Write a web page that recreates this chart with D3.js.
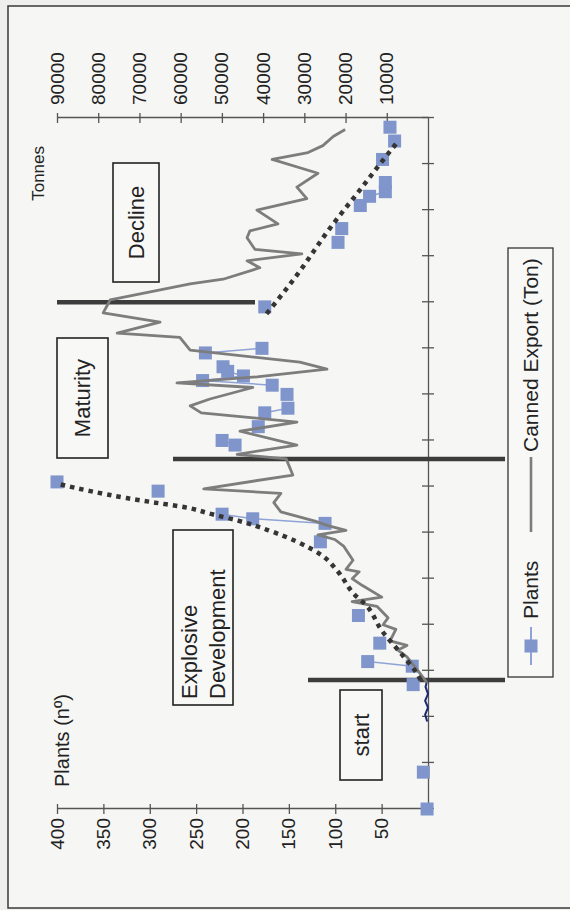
<!DOCTYPE html>
<html>
<head>
<meta charset="utf-8">
<script src="https://cdn.jsdelivr.net/npm/d3@7"></script>
<style>
body { margin: 0; background: #efefed; }
svg { display: block; font-family: "Liberation Sans", Arial, sans-serif; }
</style>
</head>
<body>
<div id="chart"></div>
<script>
// time axis: one tick every 10 years, no labels
var timeTicks = [1850, 1860, 1870, 1880, 1890, 1900, 1910, 1920, 1930, 1940, 1950, 1960, 1970, 1980, 1990, 2000];
var plantTicks = [50, 100, 150, 200, 250, 300, 350, 400];
var tonneTicks = [10000, 20000, 30000, 40000, 50000, 60000, 70000, 80000, 90000];

// plants (number of canning plants)
var plantYears = [1850, 1858, 1877, 1881, 1882, 1886, 1892, 1908, 1912, 1913, 1914, 1919, 1921,
    1929, 1930, 1933, 1936, 1937, 1940, 1942, 1943, 1944, 1945, 1946, 1949, 1950,
    1959, 1973, 1976, 1981, 1983, 1984, 1986, 1991, 1995, 1998];
var plantCounts = [1, 5, 16, 17, 65, 52, 75, 116, 111, 189, 222, 291, 400,
    208, 222, 183, 176, 151, 152, 168, 243, 199, 216, 221, 240, 179,
    176, 97, 93, 73, 63, 46, 46, 49, 36, 41];

// canned export (tonnes)
var earlyYears = [1869, 1870.5, 1872, 1873.5, 1875, 1876.5, 1877.5];
var earlyTonnes = [200, 700, 0, 700, 0, 600, 300];
var exportYears = [1877.5, 1880, 1883, 1884.5, 1885.5, 1886.5, 1889, 1890, 1891.5, 1894, 1895, 1896,
    1898.5, 1900, 1901.5, 1902, 1904, 1907, 1908.5, 1909.5, 1910.5, 1911.5, 1912.5, 1914.5,
    1916.5, 1918.5, 1919.5, 1922.5, 1926, 1927, 1929, 1932, 1934, 1936, 1937.5, 1939, 1941.5,
    1942.5, 1943.8, 1945.5, 1947, 1949.6, 1952.4, 1953.3, 1955.7, 1957.7, 1960.5, 1964, 1965,
    1967.5, 1969, 1970.5, 1971.5, 1974, 1975.5, 1977, 1980, 1982.5, 1985, 1988, 1991, 1992.5,
    1994, 1996, 1997.5];
var exportTonnes = [300, 2400, 5100, 7300, 5100, 9200, 7800, 10900, 9700, 12400, 18400, 11200,
    15900, 18400, 16700, 19900, 18200, 20400, 22600, 26700, 19900, 24300, 27400, 35700,
    37400, 35700, 54400, 32800, 34400, 46300, 31800, 45600, 31800, 55000, 57700, 52900, 42500,
    60900, 41500, 24500, 31100, 57700, 60200, 75400, 65000, 78800, 77100, 57700, 49700,
    40800, 43900, 30600, 42000, 43900, 43200, 36400, 41500, 29400, 31800, 26700, 37800, 29100,
    25500, 23000, 20100];

// trend lines
var growthYears = [1878, 1880, 1883.5, 1888.5, 1894.5, 1896.5, 1901.5, 1905, 1908, 1910.5, 1912.5, 1914, 1915.5, 1916.5, 1917.5, 1919, 1920.5];
var growthPlants = [8, 14, 28, 49, 68, 79, 97, 114, 141, 172, 203, 233, 262, 294, 325, 364, 397];
var declineYears = [1957.5, 1966, 1976, 1985, 1991.5, 1995];
var declinePlants = [174, 141, 106, 71, 46, 32];

var phaseYears = [1878, 1926, 1960];

var W = 691, H = 371;

var svg = d3.select("#chart").append("svg")
    .attr("width", 570)
    .attr("height", 910);

svg.append("rect")
    .attr("x", 8).attr("y", 6)
    .attr("width", 600).attr("height", 902)
    .attr("fill", "#f6f6f4")
    .attr("stroke", "#3a3a3a")
    .attr("stroke-width", 1.5);

// the whole chart is turned a quarter turn, as on the scanned page
var g = svg.append("g").attr("transform", "translate(57,809) rotate(-90)");

var x = d3.scaleLinear().domain([1850, 2000]).range([0, W]);
var yP = d3.scaleLinear().domain([0, 400]).range([H, 0]);
var yT = d3.scaleLinear().domain([0, 90000]).range([H, 0]);

// axes
var axP = g.append("g")
    .call(d3.axisLeft(yP).tickValues(plantTicks).tickSize(5).tickSizeOuter(0).tickPadding(4));
axP.selectAll(".tick line").attr("x1", 5);

var axT = g.append("g")
    .attr("transform", "translate(" + W + ",0)")
    .call(d3.axisRight(yT).tickValues(tonneTicks).tickFormat(d3.format("d"))
        .tickSize(5).tickSizeOuter(0).tickPadding(8));
axT.selectAll(".tick line").attr("x1", -5);

var axX = g.append("g")
    .attr("transform", "translate(0," + H + ")")
    .call(d3.axisBottom(x).tickValues(timeTicks).tickFormat("").tickSize(6).tickSizeOuter(0));
axX.selectAll(".tick line").attr("y1", -6);

g.selectAll(".domain, .tick line").attr("stroke", "#555").attr("stroke-width", 1.3);
g.selectAll(".tick text")
    .attr("font-family", "Liberation Sans, Arial, sans-serif")
    .attr("font-size", 19)
    .attr("fill", "#222");

// axis titles
g.append("text")
    .attr("x", 22).attr("y", 12)
    .attr("font-size", 20).attr("fill", "#222")
    .text("Plants (nº)");
g.append("text")
    .attr("x", W - 28).attr("y", -13)
    .attr("text-anchor", "end")
    .attr("font-size", 17).attr("fill", "#222")
    .text("Tonnes");

// phase separators
var phaseSpan = [[251, 448], [116, 448], [0, 198]];
g.selectAll("line.phase")
    .data(phaseYears)
    .enter().append("line")
    .attr("class", "phase")
    .attr("x1", function (d) { return x(d); })
    .attr("x2", function (d) { return x(d); })
    .attr("y1", function (d, i) { return phaseSpan[i][0]; })
    .attr("y2", function (d, i) { return phaseSpan[i][1]; })
    .attr("stroke", "#3c3c3c")
    .attr("stroke-width", 4.5);

// phase labels
function labelBox(u0, u1, v0, v1, lines) {
    g.append("rect")
        .attr("x", u0).attr("y", v0)
        .attr("width", u1 - u0).attr("height", v1 - v0)
        .attr("fill", "#f8f8f6")
        .attr("stroke", "#222")
        .attr("stroke-width", 1.6);
    var t = g.append("text")
        .attr("font-size", 22).attr("fill", "#222");
    if (lines.length == 1) {
        t.attr("x", (u0 + u1) / 2).attr("y", (v0 + v1) / 2)
            .attr("text-anchor", "middle")
            .attr("dy", "0.35em")
            .text(lines[0]);
    } else {
        lines.forEach(function (s, i) {
            t.append("tspan")
                .attr("x", u0 + 6)
                .attr("y", v0 + 24 + i * 28)
                .text(s);
        });
    }
}
labelBox(29, 119, 283, 325, ["start"]);
labelBox(104, 279, 116, 176, ["Explosive", "Development"]);
labelBox(351, 471, 0, 51, ["Maturity"]);
labelBox(527, 646, 56, 102, ["Decline"]);

// trend lines (dotted)
var trendLine = d3.line()
    .curve(d3.curveMonotoneX)
    .x(function (d) { return x(d[0]); })
    .y(function (d) { return yP(d[1]); });

// plants line: only consecutive years are joined
var plants = d3.zip(plantYears, plantCounts);
var runs = [], run = [];
plants.forEach(function (d, i) {
    if (i > 0 && d[0] - plants[i - 1][0] != 1) { runs.push(run); run = []; }
    run.push(d);
});
runs.push(run);

var plantLine = d3.line()
    .x(function (d) { return x(d[0]); })
    .y(function (d) { return yP(d[1]); });

g.selectAll("path.prun")
    .data(runs.filter(function (r) { return r.length > 1; }))
    .enter().append("path")
    .attr("class", "prun")
    .attr("d", plantLine)
    .attr("fill", "none")
    .attr("stroke", "#8fa3d6")
    .attr("stroke-width", 1.5);

g.selectAll("rect.plant")
    .data(plants)
    .enter().append("rect")
    .attr("class", "plant")
    .attr("x", function (d) { return x(d[0]) - 6.5; })
    .attr("y", function (d) { return yP(d[1]) - 6.5; })
    .attr("width", 13).attr("height", 13)
    .attr("fill", "#7f95cb");

// canned export
var tonLine = d3.line()
    .x(function (d) { return x(d[0]); })
    .y(function (d) { return yT(d[1]); });

g.append("path")
    .datum(d3.zip(earlyYears, earlyTonnes))
    .attr("d", tonLine)
    .attr("fill", "none")
    .attr("stroke", "#1d2a70")
    .attr("stroke-width", 2);

g.append("path")
    .datum(d3.zip(exportYears, exportTonnes))
    .attr("d", tonLine)
    .attr("fill", "none")
    .attr("stroke", "#7d7d7d")
    .attr("stroke-width", 2.8)
    .attr("stroke-linejoin", "round");

[d3.zip(growthYears, growthPlants), d3.zip(declineYears, declinePlants)].forEach(function (pts) {
    g.append("path")
        .datum(pts)
        .attr("d", trendLine)
        .attr("fill", "none")
        .attr("stroke", "#353535")
        .attr("stroke-width", 4.5)
        .attr("stroke-dasharray", "4.5,5");
});

// legend
var lg = g.append("g").attr("transform", "translate(132,451)");
lg.append("rect")
    .attr("width", 429).attr("height", 45)
    .attr("fill", "#f8f8f6")
    .attr("stroke", "#333")
    .attr("stroke-width", 1.3);
lg.append("line")
    .attr("x1", 12).attr("x2", 50).attr("y1", 23).attr("y2", 23)
    .attr("stroke", "#8fa3d6").attr("stroke-width", 2);
lg.append("rect")
    .attr("x", 24.5).attr("y", 16.5).attr("width", 13).attr("height", 13)
    .attr("fill", "#7f95cb");
lg.append("text")
    .attr("x", 58).attr("y", 23).attr("dy", "0.35em")
    .attr("font-size", 21).attr("fill", "#222")
    .text("Plants");
lg.append("line")
    .attr("x1", 145).attr("x2", 220).attr("y1", 23).attr("y2", 23)
    .attr("stroke", "#7d7d7d").attr("stroke-width", 2.6);
lg.append("text")
    .attr("x", 225).attr("y", 23).attr("dy", "0.35em")
    .attr("font-size", 21).attr("fill", "#222")
    .text("Canned Export (Ton)");
</script>
</body>
</html>
